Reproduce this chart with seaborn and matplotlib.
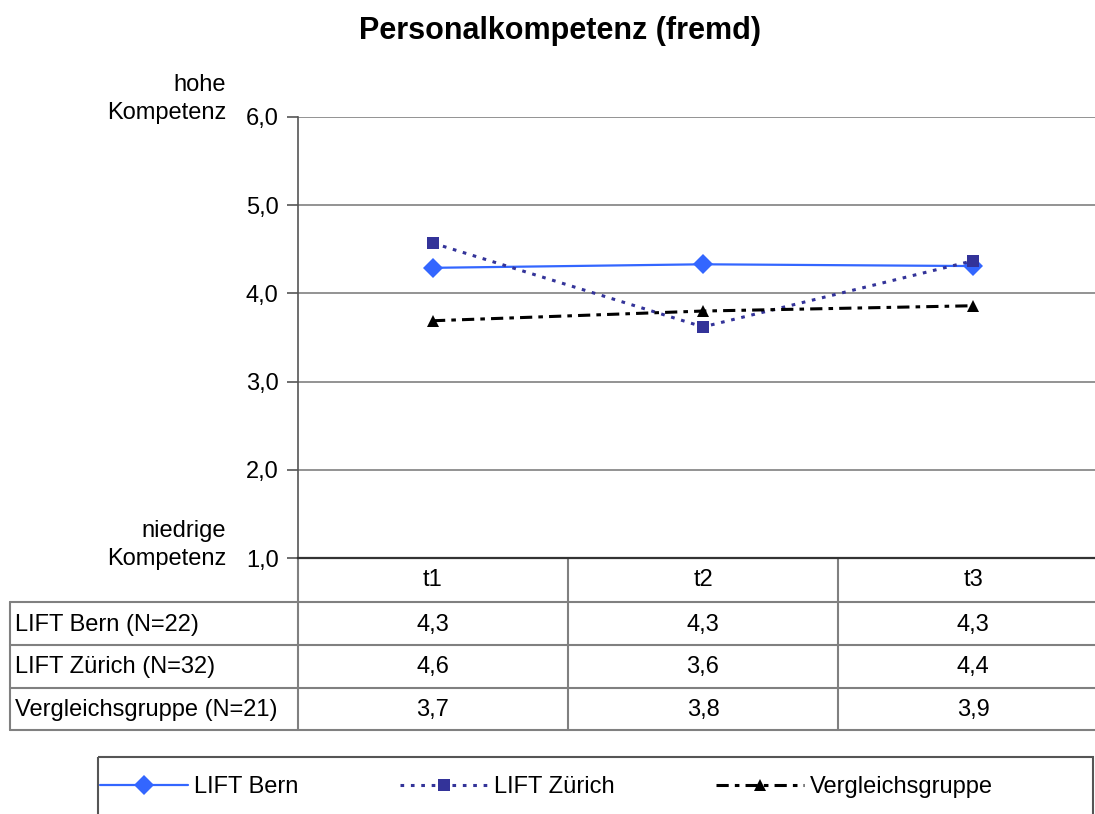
"""Personalkompetenz (fremd): line chart with data table underneath."""

import matplotlib
matplotlib.use("Agg")
import matplotlib.pyplot as plt
import matplotlib.transforms as mtransforms
from matplotlib.patches import Rectangle
import numpy as np
import pandas as pd
import seaborn as sns

# --- data -----------------------------------------------------------------
times = ["t1", "t2", "t3"]
bern = [4.29, 4.33, 4.31]
zuerich = [4.57, 3.62, 4.37]
vergleich = [3.69, 3.80, 3.86]

series_names = ["LIFT Bern", "LIFT Zürich", "Vergleichsgruppe"]
table_labels = ["LIFT Bern (N=22)", "LIFT Zürich (N=32)", "Vergleichsgruppe (N=21)"]
y_ticks = [1, 2, 3, 4, 5, 6]

df = pd.DataFrame({
    "time": times * 3,
    "value": bern + zuerich + vergleich,
    "group": np.repeat(series_names, len(times)),
})

# --- style ------------------------------------------------------------------
sns.set_theme(style="white")
plt.rcParams["font.family"] = ["Liberation Sans", "DejaVu Sans"]
plt.rcParams["text.color"] = "black"
plt.rcParams["ytick.labelcolor"] = "black"
FS = 17

styles = {
    "LIFT Bern": dict(color="#3366FF", linestyle="-", marker="D", markersize=10, lw=1.6),
    "LIFT Zürich": dict(color="#333399", linestyle=(0, (1.2, 2.2)), marker="s", markersize=8, lw=2.2),
    "Vergleichsgruppe": dict(color="black", linestyle=(0, (4, 2, 1.5, 2)), marker="^", markersize=9, lw=2.2),
}

W, H = 1095, 814
fig = plt.figure(figsize=(W / 100, H / 100), dpi=100)

# main plot area (pixel layout)
ax = fig.add_axes([298 / W, 1 - 558 / H, 810 / W, 441 / H])
for name in series_names:
    st = styles[name]
    sub = df[df["group"] == name]
    sns.lineplot(data=sub, x="time", y="value", ax=ax, label=name,
                 color=st["color"], linestyle=st["linestyle"], linewidth=st["lw"],
                 marker=st["marker"], markersize=st["markersize"],
                 markeredgewidth=0, sort=False)

ax.set_xlim(-0.5, 2.5)
ax.set_ylim(1, 6)
ax.set_yticks(y_ticks)
ax.set_yticklabels([f"{v:.1f}".replace(".", ",") for v in y_ticks], fontsize=FS)
ax.set_xticks([])
ax.set_xlabel("")
ax.set_ylabel("")
ax.yaxis.grid(True, color="#808080", linewidth=1.2)
ax.set_axisbelow(True)
ax.tick_params(axis="y", left=True, length=8, width=1.2, color="#555555", pad=6)
for side in ["top", "right"]:
    ax.spines[side].set_visible(False)
ax.spines["left"].set_color("#555555")
ax.spines["left"].set_linewidth(1.2)
ax.spines["bottom"].set_color("#333333")
ax.spines["bottom"].set_linewidth(1.6)
ax.get_legend().remove()

# overlay in pixel coordinates for the table, labels and legend frame
ov = fig.add_axes([0, 0, 1, 1], zorder=-1)
ov.set_xlim(0, W)
ov.set_ylim(H, 0)
ov.axis("off")
blend = mtransforms.blended_transform_factory(ax.transData, ov.transData)

fig.text(560 / W, 1 - 31 / H, "Personalkompetenz (fremd)", ha="center", va="center",
         fontsize=22, fontweight="bold")

ov.text(226, 99, "hohe\nKompetenz", ha="right", va="center", fontsize=FS, linespacing=1.4)
ov.text(226, 545, "niedrige\nKompetenz", ha="right", va="center", fontsize=FS, linespacing=1.4)

# table grid
grid_kw = dict(color="#808080", linewidth=1.5)
row_lines = [602, 645, 688, 730]
for yl in row_lines:
    ov.plot([10, W], [yl, yl], **grid_kw)
ov.plot([10, 10], [602, 730], **grid_kw)
for xb in [-0.5, 0.5, 1.5]:
    ov.plot([xb, xb], [558, 730], transform=blend, **grid_kw)

# header and cell values
for i, t in enumerate(times):
    ov.text(i, 580, t, transform=blend, ha="center", va="center", fontsize=FS)
for r, (lab, vals) in enumerate(zip(table_labels, [bern, zuerich, vergleich])):
    yc = (row_lines[r] + row_lines[r + 1]) / 2 + 1
    ov.text(15, yc, lab, ha="left", va="center", fontsize=FS)
    for i, v in enumerate(vals):
        ov.text(i, yc, f"{v:.1f}".replace(".", ","), transform=blend,
                ha="center", va="center", fontsize=FS)

# legend frame and entries
ov.add_patch(Rectangle((98, 757), 1093 - 98, 80, fill=False,
                       edgecolor="#555555", linewidth=1.5))
handles, labels = ax.get_legend_handles_labels()
fig.legend(handles, labels, loc="center left", ncol=3, frameon=False,
           bbox_to_anchor=(100 / W, 1 - 787 / H), fontsize=FS,
           handlelength=3.73, handletextpad=0.25, columnspacing=4.3,
           borderpad=0, borderaxespad=0)

fig.savefig("out.png", dpi=100)
